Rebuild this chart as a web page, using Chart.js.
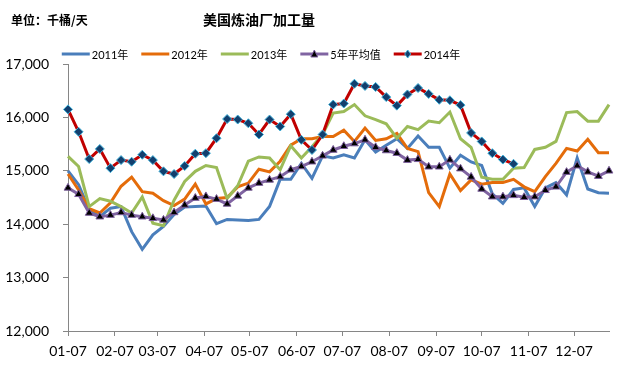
<!DOCTYPE html>
<html>
<head>
<meta charset="utf-8">
<script src="https://cdn.jsdelivr.net/npm/chart.js@4.4.0/dist/chart.umd.min.js"></script>
<style>
  body { margin: 0; background: #fff; }
  #wrap { width: 621px; height: 373px; }
</style>
</head>
<body>
<div id="wrap"><canvas id="chart" width="621" height="373"></canvas></div>
<script>
// Texts
const titleText = '美国炼油厂加工量';
const unitText = '单位：千桶/天';

// X axis: days since Jan 7, ticks on the 7th of each month
const tickDays = [0, 31, 59, 90, 120, 151, 181, 212, 243, 273, 304, 334];
const tickLabels = ['01-07', '02-07', '03-07', '04-07', '05-07', '06-07',
                    '07-07', '08-07', '09-07', '10-07', '11-07', '12-07'];
const daysPerWeek = 7;
const axisEndDay = 357;

// Weekly series (thousand barrels/day)
const y2011 = [15000, 14740, 14270, 14140, 14300, 14330, 13860, 13530, 13800, 13960, 14180, 14320,
               14330, 14340, 14010, 14090, 14080, 14070, 14090, 14330, 14840, 14840, 15140, 14860,
               15280, 15240, 15300, 15240, 15580, 15350, 15480, 15600, 15420, 15650, 15440, 15440,
               15050, 15290, 15165, 15100, 14570, 14390, 14650, 14680, 14330, 14680, 14780, 14550,
               15240, 14660, 14590, 14580];
const y2012 = [14940, 14640, 14290, 14210, 14400, 14710, 14880, 14610, 14580, 14440, 14350, 14470,
               14750, 14380, 14480, 14500, 14700, 14770, 15030, 14980, 15180, 15480, 15600, 15600,
               15640, 15640, 15760, 15550, 15800, 15570, 15600, 15700, 15420, 15360, 14590, 14330,
               14940, 14630, 14830, 14750, 14780, 14780, 14840, 14700, 14610, 14890, 15140, 15420,
               15370, 15590, 15340, 15340];
const y2013 = [15270, 15080, 14330, 14480, 14430, 14330, 14210, 14510, 14020, 13970, 14450, 14800,
               14990, 15100, 15060, 14480, 14720, 15180, 15260, 15240, 15020, 15470, 15240, 15450,
               15680, 16080, 16110, 16240, 16030, 15960, 15880, 15610, 15830, 15770, 15930, 15900,
               16100, 15600, 15440, 14880, 14840, 14840, 15050, 15060, 15400, 15440, 15550, 16090,
               16110, 15930, 15930, 16240];
const avg5 = [14680, 14560, 14210, 14140, 14170, 14220, 14170, 14140, 14110, 14080, 14220, 14360,
              14490, 14520, 14470, 14380, 14530, 14680, 14770, 14830, 14890, 15020, 15080, 15170,
              15280, 15390, 15460, 15510, 15580, 15440, 15380, 15330, 15200, 15215, 15075, 15075,
              15205, 15040, 14885, 14660, 14515, 14515, 14540, 14505, 14515, 14635, 14700, 14975,
              15095, 14980, 14900, 15000];
const y2014 = [16150, 15730, 15220, 15410, 15050, 15200, 15170, 15300, 15200, 14990, 14940, 15090,
               15320, 15330, 15610, 15970, 15960, 15890, 15680, 15960, 15830, 16060, 15580, 15390,
               15680, 16240, 16260, 16630, 16590, 16570, 16380, 16220, 16430, 16550, 16440, 16330,
               16320, 16230, 15710, 15550, 15330, 15210, 15130];

const seriesNames = ['2011年', '2012年', '2013年', '5年平均值', '2014年'];

function toPoints(values) {
    return values.map((v, i) => ({ x: i * daysPerWeek, y: v }));
}

// Title, unit and legend drawn on the canvas
const textPlugin = {
    id: 'texts',
    afterDraw(chart) {
        const ctx = chart.ctx;
        ctx.save();
        ctx.fillStyle = '#000';
        ctx.textBaseline = 'middle';

        ctx.textAlign = 'left';
        ctx.font = 'bold 12px "Noto Sans CJK SC"';
        ctx.fillText(unitText, 11, 20);

        ctx.textAlign = 'center';
        ctx.font = 'bold 14px "Noto Sans CJK SC"';
        ctx.fillText(titleText, 259, 20);

        // Legend
        const legendY = 54;
        const lineLen = 28;
        const gap = 13;
        ctx.font = '11px Lato, "Noto Sans CJK SC"';
        const datasets = chart.data.datasets;
        const order = [0, 1, 2, 3, 4];
        let total = 0;
        order.forEach(k => {
            total += lineLen + 2 + ctx.measureText(datasets[k].label).width;
        });
        total += gap * (order.length - 1);
        let x = 261 - total / 2;
        order.forEach(k => {
            const ds = datasets[k];
            ctx.strokeStyle = ds.borderColor;
            ctx.lineWidth = 3;
            ctx.beginPath();
            ctx.moveTo(x, legendY);
            ctx.lineTo(x + lineLen, legendY);
            ctx.stroke();
            if (ds.legendMarker) {
                const mx = x + lineLen / 2;
                ctx.fillStyle = ds.pointBackgroundColor;
                ctx.strokeStyle = ds.pointBorderColor;
                ctx.lineWidth = 1;
                ctx.beginPath();
                if (ds.pointStyle === 'triangle') {
                    ctx.moveTo(mx, legendY - 4);
                    ctx.lineTo(mx + 3.5, legendY + 3);
                    ctx.lineTo(mx - 3.5, legendY + 3);
                } else {
                    ctx.moveTo(mx, legendY - 4);
                    ctx.lineTo(mx + 3, legendY);
                    ctx.lineTo(mx, legendY + 4);
                    ctx.lineTo(mx - 3, legendY);
                }
                ctx.closePath();
                ctx.fill();
                ctx.stroke();
            }
            ctx.fillStyle = '#000';
            ctx.textAlign = 'left';
            ctx.fillText(ds.label, x + lineLen + 2, legendY + 1);
            x += lineLen + 2 + ctx.measureText(ds.label).width + gap;
        });
        ctx.restore();
    }
};

const ctx = document.getElementById('chart').getContext('2d');
new Chart(ctx, {
    type: 'line',
    data: {
        datasets: [{
            label: seriesNames[0],
            data: toPoints(y2011),
            borderColor: '#4a7ebb',
            borderWidth: 3,
            pointRadius: 0,
            order: 4
        }, {
            label: seriesNames[1],
            data: toPoints(y2012),
            borderColor: '#e46c0a',
            borderWidth: 3,
            pointRadius: 0,
            order: 3
        }, {
            label: seriesNames[2],
            data: toPoints(y2013),
            borderColor: '#9bbb59',
            borderWidth: 3,
            pointRadius: 0,
            order: 2
        }, {
            label: seriesNames[3],
            data: toPoints(avg5),
            borderColor: '#8064a2',
            borderWidth: 3,
            pointStyle: 'triangle',
            pointRadius: 4.5,
            pointBackgroundColor: '#000000',
            pointBorderColor: '#7a5c9c',
            pointBorderWidth: 1,
            legendMarker: true,
            order: 1
        }, {
            label: seriesNames[4],
            data: toPoints(y2014),
            borderColor: '#c00000',
            borderWidth: 3,
            pointStyle: 'rectRot',
            pointRadius: 4.5,
            pointBackgroundColor: '#123f6e',
            pointBorderColor: '#3fb0d8',
            pointBorderWidth: 1,
            legendMarker: true,
            order: 0
        }]
    },
    options: {
        responsive: false,
        animation: false,
        layout: {
            padding: { left: 0, right: 12, top: 64, bottom: 0 }
        },
        elements: {
            line: { tension: 0 }
        },
        datasets: {
            line: { clip: false }
        },
        scales: {
            x: {
                type: 'linear',
                min: 0,
                max: axisEndDay,
                afterBuildTicks(scale) {
                    scale.ticks = tickDays.map(v => ({ value: v }));
                },
                afterFit(scale) {
                    scale.height = 42;
                },
                ticks: {
                    autoSkip: false,
                    maxRotation: 0,
                    padding: 7,
                    color: '#000',
                    font: { family: 'Lato', size: 14 },
                    callback: v => tickLabels[tickDays.indexOf(v)]
                },
                grid: {
                    drawOnChartArea: false,
                    tickLength: 5,
                    color: '#868686'
                },
                border: { color: '#868686', width: 1 }
            },
            y: {
                min: 12000,
                max: 17000,
                afterFit(scale) {
                    scale.width = 68;
                },
                ticks: {
                    stepSize: 1000,
                    padding: 14,
                    color: '#000',
                    font: { family: 'Lato', size: 14 },
                    callback: v => v.toLocaleString('en-US')
                },
                grid: {
                    drawOnChartArea: false,
                    tickLength: 5,
                    color: '#868686'
                },
                border: { color: '#868686', width: 1 }
            }
        },
        plugins: {
            legend: { display: false },
            tooltip: { enabled: false },
            title: { display: false }
        }
    },
    plugins: [textPlugin]
});
</script>
</body>
</html>
